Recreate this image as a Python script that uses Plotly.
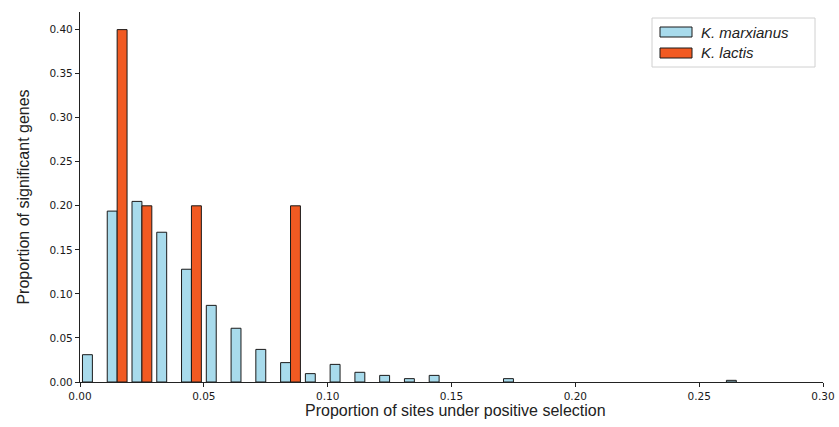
import plotly.graph_objects as go

# Histogram bins: width 0.01 from 0.00 to 0.30
bin_width = 0.01
bin_starts = [round(i * bin_width, 2) for i in range(30)]

# Proportion of significant genes in each bin
marxianus = [0.031, 0.194, 0.205, 0.170, 0.128, 0.087, 0.061, 0.037, 0.022, 0.0095,
             0.020, 0.011, 0.0075, 0.0038, 0.0075, 0, 0, 0.0038, 0, 0,
             0, 0, 0, 0, 0, 0, 0.0019, 0, 0, 0]
lactis = [0, 0.40, 0.20, 0, 0.20, 0, 0, 0, 0.20, 0,
          0, 0, 0, 0, 0, 0, 0, 0, 0, 0,
          0, 0, 0, 0, 0, 0, 0, 0, 0, 0]

series_names = ["K. marxianus", "K. lactis"]
series_colors = ["#A8DBEC", "#F15A22"]
edge_color = "#1a1a1a"

x_ticks = [0, 0.05, 0.10, 0.15, 0.20, 0.25, 0.30]
y_ticks = [0, 0.05, 0.10, 0.15, 0.20, 0.25, 0.30, 0.35, 0.40]

centers = [s + bin_width / 2 for s in bin_starts]

fig = go.Figure()
for name, vals, color in zip(series_names, [marxianus, lactis], series_colors):
    fig.add_trace(go.Bar(
        x=centers,
        y=[v if v > 0 else None for v in vals],
        name=name,
        marker=dict(color=color, line=dict(color=edge_color, width=1)),
        showlegend=False,
    ))

# Layout geometry in pixels
W, H = 839, 427
L, R, T, B = 80, 16, 12, 45
pw, ph = W - L - R, H - T - B


def px(x):
    return (x - L) / pw


def py(y):
    return (H - B - y) / ph


# Legend box with wide rectangular patches
fig.add_shape(type="rect", xref="paper", yref="paper",
              x0=px(652), x1=px(815), y0=py(18), y1=py(67),
              line=dict(color="#d0d0d0", width=1), fillcolor="white", layer="above")
for i, (name, color) in enumerate(zip(series_names, series_colors)):
    yc = 32 + i * 21
    fig.add_shape(type="rect", xref="paper", yref="paper",
                  x0=px(660), x1=px(692), y0=py(yc - 5), y1=py(yc + 5),
                  line=dict(color=edge_color, width=1), fillcolor=color, layer="above")
    fig.add_annotation(xref="paper", yref="paper", x=px(699), y=py(yc),
                       text=f"<i>{name}</i>", showarrow=False,
                       xanchor="left", yanchor="middle",
                       font=dict(family="Liberation Sans, Arial", size=15, color="#222222"))

tick_font = dict(family="DejaVu Sans", size=10.5, color="#1a1a1a")
title_font = dict(family="Liberation Sans, Arial", size=16, color="#222222")

# x-axis title
fig.add_annotation(xref="paper", yref="paper", x=px(455), y=py(410),
                   text="Proportion of sites under positive selection", showarrow=False,
                   xanchor="center", yanchor="middle", font=title_font)

fig.update_layout(
    width=W, height=H,
    margin=dict(l=L, r=R, t=T, b=B),
    paper_bgcolor="white", plot_bgcolor="white",
    barmode="group", bargap=0.2, bargroupgap=0,
    showlegend=False,
    xaxis=dict(
        range=[0, 0.30], tickvals=x_ticks,
        ticktext=[f"{v:.2f}" for v in x_ticks],
        ticks="outside", ticklen=4, tickcolor="#222222", tickwidth=1,
        showline=True, linecolor="#222222", linewidth=1.2,
        showgrid=False, zeroline=False, tickfont=tick_font, automargin=False,
    ),
    yaxis=dict(
        range=[0, 0.42], tickvals=y_ticks,
        ticktext=[f"{v:.2f}" for v in y_ticks],
        ticks="outside", ticklen=4, tickcolor="#222222", tickwidth=1,
        showline=True, linecolor="#222222", linewidth=1.2,
        showgrid=False, zeroline=False, tickfont=tick_font, automargin=False,
        title=dict(text="Proportion of significant genes", font=title_font),
    ),
)

fig.write_html("out.html")
